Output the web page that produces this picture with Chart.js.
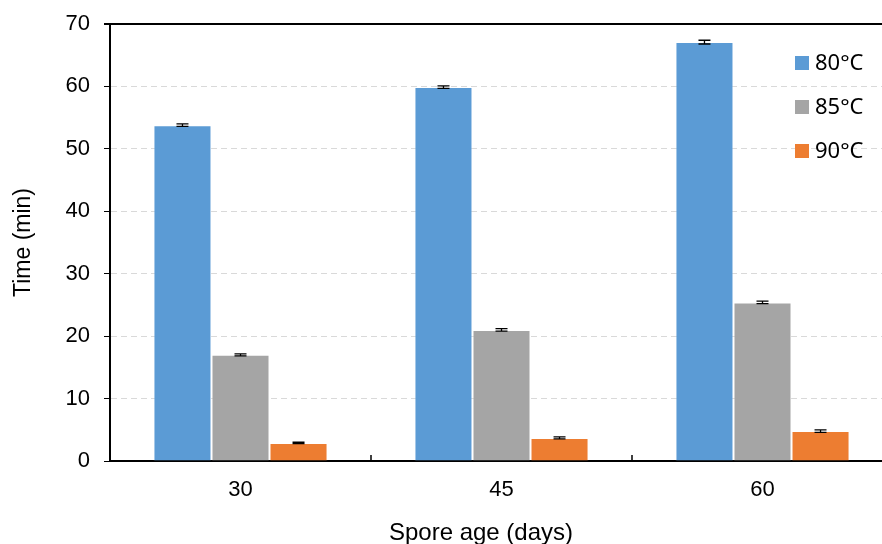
<!DOCTYPE html>
<html>
<head>
<meta charset="utf-8">
<script src="https://cdn.jsdelivr.net/npm/chart.js@4/dist/chart.umd.min.js"></script>
<style>
  body { margin: 0; background: #fff; overflow: hidden; }
  #wrap { width: 895px; height: 544px; }
</style>
</head>
<body>
<div id="wrap"><canvas id="chart" width="895" height="544"></canvas></div>
<script>
// данные с графика
const categories = ['30', '45', '60'];
const seriesLabels = ['80°C', '85°C', '90°C'];
const values80 = [53.8, 59.9, 67.1];
const values85 = [17.0, 21.0, 25.4];
const values90 = [2.9, 3.7, 4.8];
const errors80 = [0.2, 0.2, 0.3];
const errors85 = [0.15, 0.2, 0.2];
const errors90 = [0.1, 0.15, 0.2];
const colors = ['#5b9bd5', '#a5a5a5', '#ed7d31'];

const seriesValues = [values80, values85, values90];
const seriesErrors = [errors80, errors85, errors90];

const FONT = '"Liberation Sans", Arial';

// Планки погрешностей, верхняя рамка, засечки по оси X, подпись оси X и легенда
const extrasPlugin = {
  id: 'extras',
  afterDatasetsDraw(chart) {
    const ctx = chart.ctx;
    const y = chart.scales.y;
    const x = chart.scales.x;
    const area = chart.chartArea;
    ctx.save();

    // error bars
    ctx.strokeStyle = '#000';
    ctx.lineWidth = 1.3;
    chart.data.datasets.forEach((ds, di) => {
      const meta = chart.getDatasetMeta(di);
      meta.data.forEach((bar, i) => {
        const v = ds.data[i];
        const e = seriesErrors[di][i];
        const yTop = y.getPixelForValue(v + e);
        const yBot = y.getPixelForValue(v - e);
        const cx = bar.x;
        ctx.beginPath();
        ctx.moveTo(cx, yTop); ctx.lineTo(cx, yBot);
        ctx.moveTo(cx - 6, yTop); ctx.lineTo(cx + 6, yTop);
        ctx.moveTo(cx - 6, yBot); ctx.lineTo(cx + 6, yBot);
        ctx.stroke();
      });
    });

    // верхняя линия (70)
    ctx.lineWidth = 2;
    ctx.beginPath();
    ctx.moveTo(area.left - 6, y.getPixelForValue(70));
    ctx.lineTo(area.right, y.getPixelForValue(70));
    ctx.stroke();

    // засечки между категориями (внутрь)
    ctx.lineWidth = 1.5;
    for (let i = 1; i < categories.length; i++) {
      const px = (x.getPixelForValue(i - 1) + x.getPixelForValue(i)) / 2;
      ctx.beginPath();
      ctx.moveTo(px, area.bottom);
      ctx.lineTo(px, area.bottom - 6);
      ctx.stroke();
    }

    // подпись оси X
    ctx.fillStyle = '#000';
    ctx.font = '24px ' + FONT;
    ctx.textAlign = 'center';
    ctx.textBaseline = 'middle';
    ctx.fillText('Spore age (days)', 481, 533);

    // легенда
    ctx.font = '22px "Noto Sans"';
    ctx.textBaseline = 'middle';
    ctx.textAlign = 'left';
    const rows = [63, 107, 151];
    seriesLabels.forEach((lbl, i) => {
      ctx.fillStyle = colors[i];
      ctx.fillRect(795, rows[i] - 7, 14, 14);
      ctx.fillStyle = '#000';
      ctx.fillText(lbl, 815, rows[i] + 1);
    });

    ctx.restore();
  }
};

new Chart(document.getElementById('chart'), {
  type: 'bar',
  data: {
    labels: categories,
    datasets: seriesLabels.map((lbl, i) => ({
      label: lbl,
      data: seriesValues[i],
      backgroundColor: colors[i],
      borderColor: 'rgba(255,255,255,0.35)',
      borderWidth: 1,
      categoryPercentage: 0.667,
      barPercentage: 1.0
    }))
  },
  options: {
    responsive: false,
    animation: false,
    layout: { padding: { left: 0, right: 2, top: 24, bottom: 0 } },
    plugins: {
      legend: { display: false },
      tooltip: { enabled: false }
    },
    scales: {
      x: {
        offset: true,
        grid: { display: false },
        border: { color: '#000', width: 2 },
        ticks: {
          color: '#000',
          padding: 8,
          font: { family: FONT, size: 22 }
        },
        afterFit(scale) {
          scale.height = 83;
          scale.paddingLeft = 0;
          scale.paddingRight = 0;
        }
      },
      y: {
        min: 0,
        max: 70,
        ticks: {
          stepSize: 10,
          color: '#000',
          padding: 14,
          font: { family: FONT, size: 22 }
        },
        grid: {
          color: (c) => (c.tick && (c.tick.value === 0 || c.tick.value === 70)) ? 'rgba(0,0,0,0)' : '#d9d9d9',
          tickColor: '#000',
          tickLength: 6,
          lineWidth: 1
        },
        border: { color: '#000', width: 2, dash: [6, 4] },
        title: {
          display: true,
          text: 'Time (min)',
          color: '#000',
          font: { family: FONT, size: 23 },
          padding: { top: 10, bottom: 0 }
        },
        afterFit(scale) {
          scale.width = 110;
          scale.paddingTop = 0;
          scale.paddingBottom = 0;
        }
      }
    }
  },
  plugins: [extrasPlugin]
});
</script>
</body>
</html>
